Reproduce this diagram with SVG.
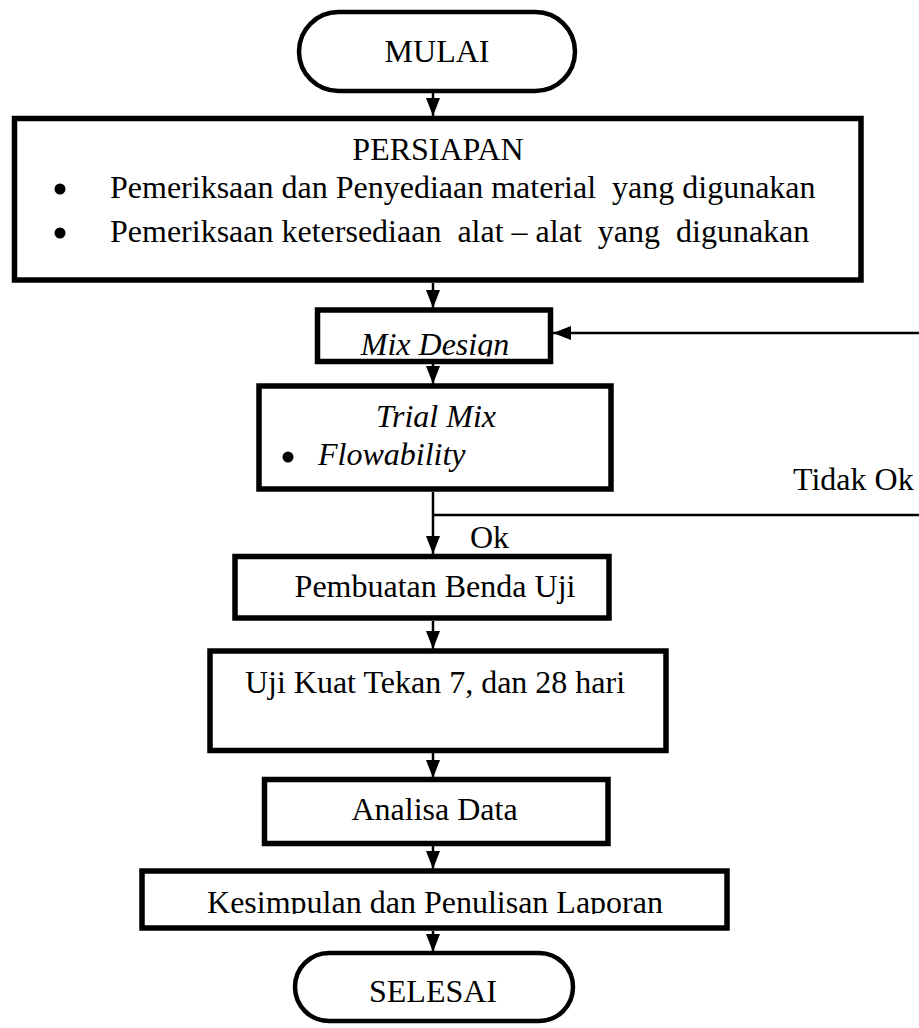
<svg xmlns="http://www.w3.org/2000/svg" width="919" height="1028" viewBox="0 0 919 1028">
<style>
  .box { fill: #ffffff; stroke: #000000; stroke-width: 5.5; }
  .term { fill: #ffffff; stroke: #000000; stroke-width: 4.5; }
  .t { font-family: "Liberation Serif", "Times New Roman", serif; font-size: 32px; fill: #000000; white-space: pre; }
  .bullet { fill: #000000; }
  .c { text-anchor: middle; }
  .i { font-style: italic; }
  .conn { fill: none; stroke: #000000; stroke-width: 2.5; }
</style>
<defs>
  <marker id="ah" viewBox="0 0 18 14" refX="18" refY="7" markerWidth="18" markerHeight="14" markerUnits="userSpaceOnUse" orient="auto">
    <path d="M0,0 L18,7 L0,14 z" fill="#000000"/>
  </marker>
  <clipPath id="clipMix"><rect x="320" y="312" width="228" height="44.5"/></clipPath>
  <clipPath id="clipKes"><rect x="145" y="874" width="580" height="40"/></clipPath>
</defs>
<rect x="0" y="0" width="919" height="1028" fill="#ffffff"/>

<g id="connectors">
  <path class="conn" d="M433,93 L433,116" marker-end="url(#ah)"/>
  <path class="conn" d="M433,283 L433,308" marker-end="url(#ah)"/>
  <path class="conn" d="M433,364 L433,384" marker-end="url(#ah)"/>
  <path class="conn" d="M433,492 L433,554" marker-end="url(#ah)"/>
  <path class="conn" d="M433,515 L930,515"/>
  <path class="conn" d="M930,333 L553,333" marker-end="url(#ah)"/>
  <path class="conn" d="M433,621 L433,649" marker-end="url(#ah)"/>
  <path class="conn" d="M433,753 L433,778" marker-end="url(#ah)"/>
  <path class="conn" d="M433,846 L433,869" marker-end="url(#ah)"/>
  <path class="conn" d="M433,931 L433,952" marker-end="url(#ah)"/>
  <text class="t" x="793" y="490">Tidak Ok</text>
  <text class="t" x="470" y="548">Ok</text>
</g>

<g id="mulai">
  <rect class="term" x="299" y="12" width="276" height="79" rx="39.5" ry="39.5"/>
  <text class="t c" x="437" y="62">MULAI</text>
</g>

<g id="persiapan">
  <rect class="box" x="14.5" y="118.5" width="846.5" height="161.5"/>
  <text class="t c" x="438" y="160">PERSIAPAN</text>
  <circle class="bullet" cx="60" cy="189" r="5.5"/>
  <text class="t" x="110" y="198">Pemeriksaan dan Penyediaan material  yang digunakan</text>
  <circle class="bullet" cx="60" cy="233" r="5.5"/>
  <text class="t" x="110" y="242">Pemeriksaan ketersediaan  alat – alat  yang  digunakan</text>
</g>

<g id="mixdesign">
  <rect class="box" x="317.5" y="310" width="233" height="51.5"/>
  <text class="t c i" x="435" y="355" clip-path="url(#clipMix)">Mix Design</text>
</g>

<g id="trialmix">
  <rect class="box" x="259" y="386" width="352" height="103"/>
  <text class="t c i" x="436" y="427">Trial Mix</text>
  <circle class="bullet" cx="288" cy="457" r="5.5"/>
  <text class="t i" x="318" y="465">Flowability</text>
</g>

<g id="pembuatan">
  <rect class="box" x="235" y="556.5" width="374" height="61.5"/>
  <text class="t c" x="435" y="597">Pembuatan Benda Uji</text>
</g>

<g id="ujikuat">
  <rect class="box" x="210" y="651" width="456" height="99.5"/>
  <text class="t c" x="435" y="693">Uji Kuat Tekan 7, dan 28 hari</text>
</g>

<g id="analisa">
  <rect class="box" x="264.5" y="779.5" width="343.5" height="64"/>
  <text class="t c" x="434.5" y="820">Analisa Data</text>
</g>

<g id="kesimpulan">
  <rect class="box" x="142" y="871" width="585" height="57"/>
  <text class="t c" x="435" y="913" clip-path="url(#clipKes)">Kesimpulan dan Penulisan Laporan</text>
</g>

<g id="selesai">
  <rect class="term" x="295" y="953" width="278" height="68" rx="34" ry="34"/>
  <text class="t c" x="433" y="1002">SELESAI</text>
</g>
</svg>
